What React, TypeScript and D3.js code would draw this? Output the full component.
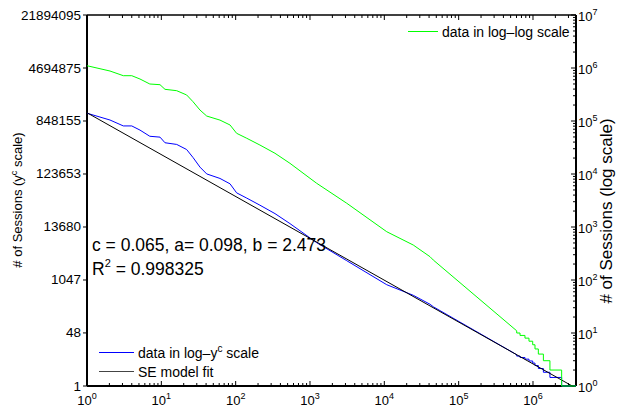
import React, { useEffect, useRef } from "react";
import * as d3 from "d3";

// rank of session vs. number of sessions, read from the green (log-log) curve
const ranks = [1, 2.04, 3.08, 4.0, 5.16, 7.0, 9.6, 11.2, 16.1, 21.9, 26.7, 33.1, 40.8, 61.5, 84, 103, 141, 212, 338, 538, 1230, 3120, 10770, 24500, 41200, 45600, 604000];
const sessions = [1104000, 877000, 716000, 716000, 620000, 499000, 484000, 396000, 373000, 310000, 231000, 161000, 124000, 104000, 84100, 58600, 47200, 35200, 24600, 15900, 6680, 2810, 815, 457, 275, 238, 11];
// stair tail at small counts
const tailCounts = [10, 9, 8, 7, 6, 5, 4, 3, 2, 1];
const tailEnds = [669000, 780000, 883000, 991000, 1064000, 1180000, 1380000, 1690000, 2430000, 3790000];

const leftTicks = [1, 48, 1047, 13680, 123653, 848155, 4694875, 21894095];
const xExps = [0, 1, 2, 3, 4, 5, 6];
const rightExps = [0, 1, 2, 3, 4, 5, 6, 7];

// SE model parameters
const c = 0.065;
const a = 0.098;
const b = 2.473;
const r2 = "0.998325";

const font = "'Liberation Sans', Arial, Helvetica, sans-serif";

const App = () => {
  const ref = useRef<SVGSVGElement>(null);
  const width = 618;
  const height = 410;
  const margin = { top: 15, right: 42, bottom: 24, left: 87 };
  const x0 = margin.left;
  const x1 = width - margin.right;
  const y0 = height - margin.bottom;
  const y1 = margin.top;

  useEffect(() => {
    const svg = d3.select(ref.current);
    svg.selectAll("*").remove();

    const pts: [number, number][] = ranks.map((r, i) => [r, sessions[i]]);
    tailCounts.forEach((k, i) => {
      const start = i === 0 ? ranks[ranks.length - 1] : tailEnds[i - 1];
      pts.push([start, k]);
      pts.push([tailEnds[i], k]);
    });
    const xMax = tailEnds[tailEnds.length - 1];

    const x = d3.scaleLog().domain([1, xMax]).range([x0, x1]);
    const yc = d3.scaleLinear().domain([1, 3]).range([y0, y1]);
    const yl = d3.scaleLog().domain([1, 1e7]).range([y0, y1]);

    svg
      .append("defs")
      .append("clipPath")
      .attr("id", "plot-clip")
      .append("rect")
      .attr("x", x0)
      .attr("y", y1)
      .attr("width", x1 - x0)
      .attr("height", y0 - y1 + 1);

    // box
    const ax = svg.append("g").attr("stroke", "#000").attr("fill", "none");
    ax.append("line").attr("x1", x0).attr("x2", x1).attr("y1", y0).attr("y2", y0).attr("stroke-width", 2);
    ax.append("line").attr("x1", x0).attr("x2", x1).attr("y1", y1).attr("y2", y1).attr("stroke-width", 1.5);
    ax.append("line").attr("x1", x0).attr("x2", x0).attr("y1", y1).attr("y2", y0).attr("stroke-width", 2);
    ax.append("line").attr("x1", x1).attr("x2", x1).attr("y1", y1).attr("y2", y0).attr("stroke-width", 2);

    // x ticks (bottom + top)
    xExps.forEach((e) => {
      for (let m = 1; m <= 9; m++) {
        const v = m * Math.pow(10, e);
        if (v > xMax) break;
        const px = x(v);
        const len = m === 1 ? 5 : 3;
        ax.append("line").attr("x1", px).attr("x2", px).attr("y1", y0).attr("y2", y0 - len).attr("stroke-width", 1);
        ax.append("line").attr("x1", px).attr("x2", px).attr("y1", y1).attr("y2", y1 + len).attr("stroke-width", 1);
      }
      const t = svg
        .append("text")
        .attr("x", x(Math.pow(10, e)))
        .attr("y", 405)
        .attr("text-anchor", "middle")
        .attr("font-family", font)
        .attr("font-size", 13)
        .attr("fill", "#000");
      t.append("tspan").text("10");
      t.append("tspan").attr("dy", -6).attr("font-size", 9).text(String(e));
    });

    // left ticks (y^c scale)
    leftTicks.forEach((v) => {
      const py = yc(Math.pow(v, c));
      ax.append("line").attr("x1", x0 - 4).attr("x2", x0).attr("y1", py).attr("y2", py).attr("stroke-width", 1);
      svg
        .append("text")
        .attr("x", 81)
        .attr("y", py + 4.5)
        .attr("text-anchor", "end")
        .attr("font-family", font)
        .attr("font-size", 13.5)
        .attr("fill", "#000")
        .text(String(v));
    });

    // right ticks (log scale)
    rightExps.forEach((e) => {
      for (let m = 1; m <= 9; m++) {
        const v = m * Math.pow(10, e);
        if (v > 1e7) break;
        const py = yl(v);
        const len = m === 1 ? 5 : 3;
        ax.append("line").attr("x1", x1 - len).attr("x2", x1).attr("y1", py).attr("y2", py).attr("stroke-width", 1);
      }
      const t = svg
        .append("text")
        .attr("x", 578)
        .attr("y", yl(Math.pow(10, e)) + 6)
        .attr("font-family", font)
        .attr("font-size", 13)
        .attr("fill", "#000");
      t.append("tspan").text("10");
      t.append("tspan").attr("dy", -6).attr("font-size", 9).text(String(e));
    });

    // axis titles
    const lt = svg
      .append("text")
      .attr("transform", `translate(22,200) rotate(-90)`)
      .attr("text-anchor", "middle")
      .attr("font-family", font)
      .attr("font-size", 13)
      .attr("fill", "#000");
    lt.append("tspan").text("# of Sessions (y");
    lt.append("tspan").attr("dy", -5).attr("font-size", 9).text("c");
    lt.append("tspan").attr("dy", 5).text(" scale)");

    svg
      .append("text")
      .attr("transform", `translate(612,211) rotate(-90)`)
      .attr("text-anchor", "middle")
      .attr("font-family", font)
      .attr("font-size", 17)
      .attr("fill", "#000")
      .text("# of Sessions (log scale)");

    // curves
    const plot = svg.append("g").attr("clip-path", "url(#plot-clip)").attr("fill", "none");
    const blueLine = d3
      .line<[number, number]>()
      .x((d) => x(d[0]))
      .y((d) => yc(Math.pow(d[1], c)));
    plot.append("path").attr("d", blueLine(pts)).attr("stroke", "#0000ff").attr("stroke-width", 1);

    const fitLine = d3
      .line<number>()
      .x((r) => x(r))
      .y((r) => yc(b - a * Math.log(r)));
    plot.append("path").attr("d", fitLine([1, xMax])).attr("stroke", "#000").attr("stroke-width", 1);

    const greenLine = d3
      .line<[number, number]>()
      .x((d) => x(d[0]))
      .y((d) => yl(d[1]));
    plot.append("path").attr("d", greenLine(pts)).attr("stroke", "#00ff00").attr("stroke-width", 1);

    // annotation
    svg
      .append("text")
      .attr("x", 92)
      .attr("y", 251)
      .attr("font-family", font)
      .attr("font-size", 17.5)
      .attr("fill", "#000")
      .text(`c = ${c}, a= ${a}, b = ${b}`);
    const rt = svg
      .append("text")
      .attr("x", 92)
      .attr("y", 274.5)
      .attr("font-family", font)
      .attr("font-size", 17.5)
      .attr("fill", "#000");
    rt.append("tspan").text("R");
    rt.append("tspan").attr("dy", -8).attr("font-size", 11).text("2");
    rt.append("tspan").attr("dy", 8).text(` = ${r2}`);

    // legends
    const leg = svg.append("g").attr("font-family", font).attr("font-size", 14).attr("fill", "#000");
    leg.append("line").attr("x1", 408).attr("x2", 438).attr("y1", 31.5).attr("y2", 31.5).attr("stroke", "#00ff00");
    leg.append("text").attr("x", 442).attr("y", 36.5).text("data in log\u2013log scale");

    leg.append("line").attr("x1", 99).attr("x2", 134).attr("y1", 352.5).attr("y2", 352.5).attr("stroke", "#0000ff");
    const l2 = leg.append("text").attr("x", 138).attr("y", 357.5);
    l2.append("tspan").text("data in log\u2013y");
    l2.append("tspan").attr("dy", -6).attr("font-size", 10).text("c");
    l2.append("tspan").attr("dy", 6).text(" scale");

    leg.append("line").attr("x1", 99).attr("x2", 134).attr("y1", 371.5).attr("y2", 371.5).attr("stroke", "#444");
    leg.append("text").attr("x", 138).attr("y", 376.5).text("SE model fit");
  }, []);

  return (
    <svg
      ref={ref}
      width={width}
      height={height}
      style={{ position: "absolute", left: 0, top: 0, background: "#fff" }}
    />
  );
};

export default App;
